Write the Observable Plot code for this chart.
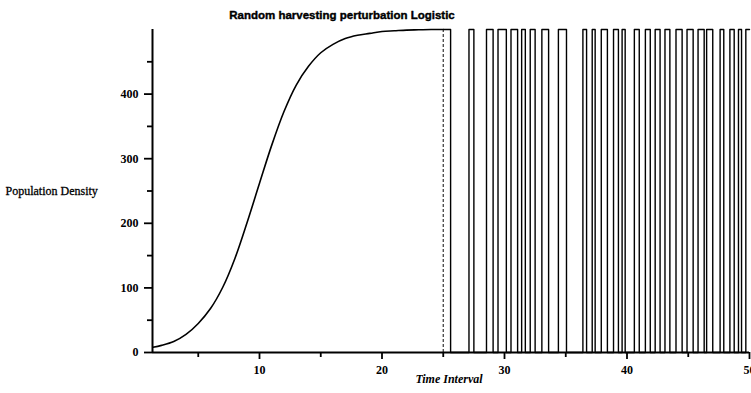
<!DOCTYPE html>
<html>
<head>
<meta charset="utf-8">
<script src="https://cdn.jsdelivr.net/npm/d3@7"></script>
<script src="https://cdn.jsdelivr.net/npm/@observablehq/plot@0.6"></script>
<style>
  html, body { margin: 0; padding: 0; background: #fff; overflow: hidden; }
</style>
</head>
<body>
<div id="chart"></div>
<script>
// ---- data ----
const titleText = "Random harvesting perturbation Logistic";
const xLabel = "Time Interval";
const yLabel = "Population Density";

const xMin = 1.265;
const xMax = 50;
const carrying = 500;      // plateau level
const floorLevel = 0;      // harvested level
const harvestStart = 25;   // dashed marker
const firstDrop = 25.6;

// logistic growth phase (time, population)
const tCurve = [1.3, 2, 3, 4, 5, 6, 7, 8, 9, 10, 11, 12, 13, 14, 15, 16, 17, 18, 19, 20, 21, 22, 23, 24, 25];
const popCurve = [8, 11, 17, 28, 45, 68, 101, 146, 202, 262, 321, 373, 414, 443, 464, 477, 486, 491, 494, 497, 498, 499, 499.5, 500, 500];

// random harvesting pulses (population back at the plateau between start and end)
const pulseStart = [27.1, 28.53, 29.47, 30.53, 31.4, 32.1, 33.05, 34.4, 36.4, 37.16, 37.9, 38.9, 39.6, 40.6, 41.5, 42.3, 43.1, 44.0, 44.9, 45.8, 46.5, 47.6, 48.4, 49.1, 49.7];
const pulseEnd   = [27.5, 29.07, 30.15, 31.07, 31.7, 32.5, 33.6, 35.06, 36.7, 37.4, 38.4, 39.3, 39.85, 41.0, 41.9, 42.7, 43.5, 44.5, 45.4, 46.3, 47.0, 47.9, 48.75, 49.35, 50];

const xMajor = [10, 20, 30, 40, 50];
const xMinor = [5, 15, 25, 35, 45];
const yMajor = [0, 100, 200, 300, 400];
const yMinor = [50, 150, 250, 350, 450];

// ---- build tables ----
const growth = tCurve.map((t, i) => ({t, v: popCurve[i]}));
const harvest = [{t: harvestStart, v: carrying}, {t: firstDrop, v: floorLevel}];
pulseStart.forEach((s, i) => {
  harvest.push({t: s, v: carrying});
  harvest.push({t: pulseEnd[i], v: floorLevel});
});
// last pulse continues to the end
harvest[harvest.length - 1].v = carrying;

const serif = "'Liberation Serif', 'Times New Roman', serif";

const chart = Plot.plot({
  width: 751,
  height: 393,
  marginLeft: 152,
  marginRight: 2,
  marginTop: 29,
  marginBottom: 41,
  x: {domain: [xMin, xMax]},
  y: {domain: [0, carrying]},
  style: {fontFamily: serif, fontSize: "12px", fontWeight: "bold", color: "#000", background: "#fff", overflow: "visible"},
  marks: [
    Plot.ruleX([harvestStart], {y1: floorLevel, y2: carrying, stroke: "#333", strokeWidth: 1.2, strokeDasharray: "3,2"}),
    Plot.line(growth, {x: "t", y: "v", curve: "catmull-rom", stroke: "#000", strokeWidth: 1.6}),
    Plot.line(harvest, {x: "t", y: "v", curve: "step-after", stroke: "#000", strokeWidth: 1.4}),
    Plot.ruleY([0], {stroke: "#000", strokeWidth: 2.2}),
    Plot.ruleX([xMin], {stroke: "#000", strokeWidth: 2}),
    Plot.axisX({ticks: xMajor, tickSize: 7, tickPadding: 6, strokeWidth: 1.8, label: null, tickFormat: d => d}),
    Plot.axisX({ticks: xMinor, tickSize: 5, strokeWidth: 1.8, tickFormat: null, text: null, label: null}),
    Plot.axisY({ticks: yMajor, tickSize: 8, tickPadding: 6, strokeWidth: 1.8, label: null, tickFormat: d => d}),
    Plot.axisY({ticks: yMinor, tickSize: 5, strokeWidth: 1.8, text: null, label: null}),
    Plot.text([titleText], {frameAnchor: "top", dx: -109, dy: -19, fontFamily: "'Liberation Sans', Arial, sans-serif", fontWeight: "900", fontSize: 11.5, fill: "#000", stroke: "#000", strokeWidth: 0.4}),
    Plot.text([yLabel], {frameAnchor: "left", dx: -147, textAnchor: "start", fontFamily: serif, fontWeight: "normal", fontSize: 12, fill: "#000", stroke: "#000", strokeWidth: 0.3}),
    Plot.text([xLabel], {frameAnchor: "bottom", dx: -2, dy: 30, fontFamily: serif, fontStyle: "italic", fontWeight: "bold", fontSize: 12, fill: "#000"})
  ]
});
document.getElementById("chart").appendChild(chart);
</script>
</body>
</html>
